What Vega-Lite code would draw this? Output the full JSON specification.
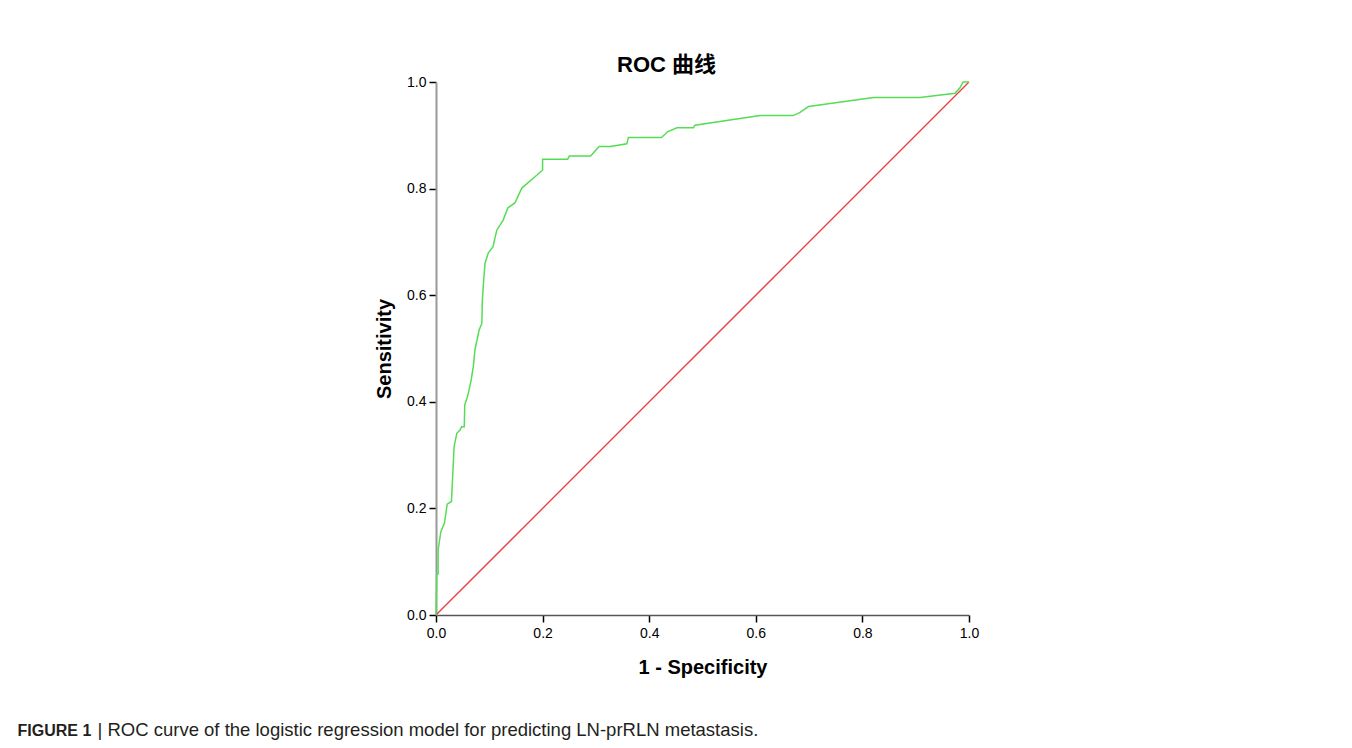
{
  "$schema": "https://vega.github.io/schema/vega-lite/v6.json",
  "width": 533,
  "height": 533,
  "autosize": {"type": "none"},
  "padding": {"left": 436, "top": 82, "right": 383, "bottom": 133},
  "background": "white",
  "config": {
    "view": {"stroke": null},
    "font": "Liberation Sans",
    "axis": {"grid": false}
  },
  "title": {
    "text": "ROC 曲线",
    "font": "Liberation Sans, Noto Sans CJK SC",
    "fontSize": 22,
    "fontWeight": "bold",
    "color": "#000000",
    "anchor": "middle",
    "dx": -36,
    "offset": -2
  },
  "datasets": {
    "roc": [
      {"i": 0, "fpr": 0.0, "tpr": 0.0},
      {"i": 1, "fpr": 0.0013, "tpr": 0.077},
      {"i": 2, "fpr": 0.004, "tpr": 0.077},
      {"i": 3, "fpr": 0.004, "tpr": 0.122},
      {"i": 4, "fpr": 0.009, "tpr": 0.156},
      {"i": 5, "fpr": 0.016, "tpr": 0.173},
      {"i": 6, "fpr": 0.021, "tpr": 0.208},
      {"i": 7, "fpr": 0.029, "tpr": 0.213},
      {"i": 8, "fpr": 0.034, "tpr": 0.316},
      {"i": 9, "fpr": 0.039, "tpr": 0.341},
      {"i": 10, "fpr": 0.045, "tpr": 0.347},
      {"i": 11, "fpr": 0.048, "tpr": 0.353},
      {"i": 12, "fpr": 0.053, "tpr": 0.353},
      {"i": 13, "fpr": 0.054, "tpr": 0.394},
      {"i": 14, "fpr": 0.06, "tpr": 0.413},
      {"i": 15, "fpr": 0.066, "tpr": 0.441},
      {"i": 16, "fpr": 0.07, "tpr": 0.466},
      {"i": 17, "fpr": 0.073, "tpr": 0.497},
      {"i": 18, "fpr": 0.081, "tpr": 0.535},
      {"i": 19, "fpr": 0.086, "tpr": 0.547},
      {"i": 20, "fpr": 0.087, "tpr": 0.591},
      {"i": 21, "fpr": 0.089, "tpr": 0.622},
      {"i": 22, "fpr": 0.092, "tpr": 0.66},
      {"i": 23, "fpr": 0.098, "tpr": 0.679},
      {"i": 24, "fpr": 0.107, "tpr": 0.691},
      {"i": 25, "fpr": 0.114, "tpr": 0.722},
      {"i": 26, "fpr": 0.126, "tpr": 0.741},
      {"i": 27, "fpr": 0.135, "tpr": 0.764},
      {"i": 28, "fpr": 0.148, "tpr": 0.773},
      {"i": 29, "fpr": 0.161, "tpr": 0.801},
      {"i": 30, "fpr": 0.189, "tpr": 0.825},
      {"i": 31, "fpr": 0.2, "tpr": 0.835},
      {"i": 32, "fpr": 0.2, "tpr": 0.855},
      {"i": 33, "fpr": 0.247, "tpr": 0.855},
      {"i": 34, "fpr": 0.25, "tpr": 0.861},
      {"i": 35, "fpr": 0.29, "tpr": 0.861},
      {"i": 36, "fpr": 0.306, "tpr": 0.879},
      {"i": 37, "fpr": 0.327, "tpr": 0.879},
      {"i": 38, "fpr": 0.358, "tpr": 0.884},
      {"i": 39, "fpr": 0.361, "tpr": 0.896},
      {"i": 40, "fpr": 0.423, "tpr": 0.896},
      {"i": 41, "fpr": 0.435, "tpr": 0.907},
      {"i": 42, "fpr": 0.452, "tpr": 0.914},
      {"i": 43, "fpr": 0.483, "tpr": 0.914},
      {"i": 44, "fpr": 0.486, "tpr": 0.919},
      {"i": 45, "fpr": 0.608, "tpr": 0.937},
      {"i": 46, "fpr": 0.67, "tpr": 0.937},
      {"i": 47, "fpr": 0.683, "tpr": 0.943},
      {"i": 48, "fpr": 0.699, "tpr": 0.954},
      {"i": 49, "fpr": 0.821, "tpr": 0.971},
      {"i": 50, "fpr": 0.908, "tpr": 0.971},
      {"i": 51, "fpr": 0.974, "tpr": 0.979},
      {"i": 52, "fpr": 0.983, "tpr": 0.989},
      {"i": 53, "fpr": 0.989, "tpr": 1.0},
      {"i": 54, "fpr": 1.0, "tpr": 1.0}
    ],
    "diag": [
      {"i": 0, "fpr": 0.0, "tpr": 0.0},
      {"i": 1, "fpr": 1.0, "tpr": 1.0}
    ]
  },
  "resolve": {"axis": {"x": "independent", "y": "independent"}},
  "layer": [
    {
      "data": {"name": "diag"},
      "mark": {"type": "line", "color": "#f03a3a", "strokeWidth": 1.3},
      "encoding": {
        "x": {
          "field": "fpr", "type": "quantitative",
          "scale": {"domain": [0, 1], "nice": false},
          "axis": {
            "orient": "bottom", "domain": false, "ticks": false, "labels": false,
            "title": "FIGURE 1",
            "titleFont": "Liberation Sans",
            "titleFontSize": 16,
            "titleFontWeight": "bold",
            "titleColor": "#231f20",
            "titleAlign": "left",
            "titleBaseline": "alphabetic",
            "titleAngle": 0,
            "titleX": -419,
            "titleY": 120
          }
        },
        "y": {
          "field": "tpr", "type": "quantitative",
          "scale": {"domain": [0, 1], "nice": false},
          "axis": {
            "orient": "right", "domain": false, "ticks": false, "labels": false,
            "title": "|  ROC curve of the logistic regression model for predicting LN-prRLN metastasis.",
            "titleFont": "Liberation Sans",
            "titleFontSize": 18.5,
            "titleFontWeight": "normal",
            "titleColor": "#231f20",
            "titleAlign": "left",
            "titleBaseline": "alphabetic",
            "titleAngle": 0,
            "titleX": -872,
            "titleY": 653
          }
        },
        "order": {"field": "i", "type": "quantitative"}
      }
    },
    {
      "data": {"name": "roc"},
      "mark": {"type": "line", "color": "#55dd55", "strokeWidth": 1.5},
      "encoding": {
        "x": {
          "field": "fpr", "type": "quantitative",
          "scale": {"domain": [0, 1], "nice": false},
          "axis": {
            "orient": "bottom",
            "title": "1 - Specificity",
            "values": [0, 0.2, 0.4, 0.6, 0.8, 1.0],
            "format": ".1f",
            "domainColor": "#555555",
            "domainWidth": 1.5,
            "tickColor": "#000000",
            "tickSize": 7,
            "tickWidth": 1.5,
            "labelFont": "Liberation Sans",
            "labelFontSize": 14,
            "labelColor": "#000000",
            "labelPadding": 4,
            "labelFlush": false,
            "titleFont": "Liberation Sans",
            "titleFontSize": 20,
            "titleFontWeight": "bold",
            "titleColor": "#000000",
            "titlePadding": 17
          }
        },
        "y": {
          "field": "tpr", "type": "quantitative",
          "scale": {"domain": [0, 1], "nice": false},
          "axis": {
            "orient": "left",
            "title": "Sensitivity",
            "values": [0, 0.2, 0.4, 0.6, 0.8, 1.0],
            "format": ".1f",
            "domainColor": "#999999",
            "domainWidth": 2,
            "tickColor": "#000000",
            "tickSize": 7,
            "tickWidth": 1.5,
            "labelFont": "Liberation Sans",
            "labelFontSize": 14,
            "labelColor": "#000000",
            "labelPadding": 3,
            "labelFlush": false,
            "titleFont": "Liberation Sans",
            "titleFontSize": 20,
            "titleFontWeight": "bold",
            "titleColor": "#000000",
            "titlePadding": 12
          }
        },
        "order": {"field": "i", "type": "quantitative"}
      }
    }
  ]
}
